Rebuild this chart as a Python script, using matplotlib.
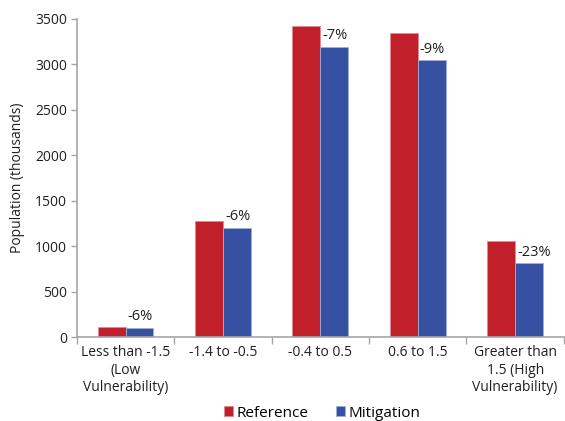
import numpy as np
import matplotlib.pyplot as plt

plt.rcParams['font.family'] = ['Open Sans', 'DejaVu Sans']

groups = ['Less than -1.5\n(Low\nVulnerability)', '-1.4 to -0.5', '-0.4 to 0.5',
          '0.6 to 1.5', 'Greater than\n1.5 (High\nVulnerability)']
reference = [110, 1280, 3420, 3350, 1056]
mitigation = [104, 1200, 3190, 3045, 812]
changes = ['-6%', '-6%', '-7%', '-9%', '-23%']

red = '#C1202A'
blue = '#3651A1'
grey = '#A6A6A6'

fig = plt.figure(figsize=(5.65, 4.21), dpi=100)
ax = fig.add_axes([0.136, 0.1995, 0.862, 0.7555])

x = np.arange(len(groups))
w = 0.286
ax.bar(x - w / 2, reference, w, color=red, edgecolor='#E08A90', linewidth=0.6, label='Reference')
ax.bar(x + w / 2, mitigation, w, color=blue, edgecolor='#9FAEDA', linewidth=0.6, label='Mitigation')

for xi, m, c in zip(x, mitigation, changes):
    ax.text(xi + 0.02, m + 40, c, ha='left', va='bottom', fontsize=10.5, color='#231F20')

ax.set_xlim(-0.5, len(groups) - 0.5)
ax.set_ylim(0, 3500)
ax.set_yticks(range(0, 3501, 500))
ax.set_xticks(x)
ax.set_xticklabels(groups, fontsize=10, color='#231F20', linespacing=1.2)
ax.set_xticks(np.arange(-0.5, len(groups)), minor=True)
ax.tick_params(axis='x', which='major', length=0, pad=6)
ax.tick_params(axis='x', which='minor', length=5, color=grey, width=1)
ax.tick_params(axis='y', length=4, color=grey, width=1, labelsize=10, labelcolor='#231F20', pad=3)
ax.set_ylabel('Population (thousands)', fontsize=10, color='#231F20', labelpad=7)

for s in ['top', 'right']:
    ax.spines[s].set_visible(False)
for s in ['left', 'bottom']:
    ax.spines[s].set_color(grey)
    ax.spines[s].set_linewidth(1.2)

fig.legend(loc='lower center', bbox_to_anchor=(0.57, -0.032), ncol=2, frameon=False,
           fontsize=11, handlelength=0.6, handleheight=0.6, handletextpad=0.2,
           columnspacing=1.8)

fig.savefig('out.png', dpi=100)
